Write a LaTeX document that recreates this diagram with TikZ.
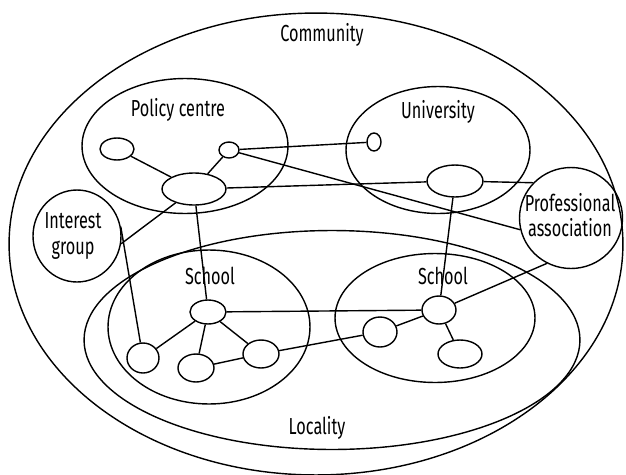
\documentclass[tikz,border=0pt]{standalone}
\usepackage{fontspec}
\setmainfont{Fira Sans}[FakeStretch=0.70]
\usetikzlibrary{shapes.geometric}
\tikzset{
    region/.style 2 args={draw, ellipse, inner sep=0pt, line width=0.8pt,
        minimum width=#1cm, minimum height=#2cm},
    blob/.style 2 args={draw, ellipse, inner sep=0pt, line width=0.8pt,
        minimum width=#1cm, minimum height=#2cm},
    lbl/.style={inner sep=1pt, align=center, font=\fontsize{13.2}{14.5}\selectfont},
    tie/.style={line width=0.8pt}
}

\begin{document}
\begin{tikzpicture}[x=0.02cm, y=-0.02cm]
    \useasboundingbox (0,0) rectangle (626,474);
    % big regions
    \node[region={12.28}{9.24}] (comm) at (316,244) {};
    \node[region={9.92}{4.38}]  (loc)  at (332,340) {};
    \node[region={4.04}{3.08}]  (schA) at (209,327) {};
    \node[region={4.0}{2.58}]   (schB) at (435,318) {};
    \node[region={4.12}{2.7}]   (pol)  at (185,146) {};
    \node[region={3.68}{2.54}]  (uni)  at (438,150) {};
    \node[region={1.76}{1.84}]  (ig)   at (77,236) {};
    \node[region={2.06}{2.02}]  (pa)   at (571,218) {};
    % labels
    \node[lbl] (tComm) at (322,35)  {Community};
    \node[lbl] (tLoc)  at (317,428) {Locality};
    \node[lbl] (tPol)  at (178,110) {Policy centre};
    \node[lbl] (tUni)  at (438,112) {University};
    \node[lbl] (tSchA) at (210,276) {School};
    \node[lbl] (tSchB) at (443,276) {School};
    \node[lbl] (tIg)   at (73,236)  {Interest\\group};
    \node[lbl] (tPa)   at (570,215) {Professional\\association};
    % small actors
    \node[blob={.68}{.44}] (p1) at (117,149) {};
    \node[blob={.40}{.32}] (p2) at (229,150) {};
    \node[blob={1.28}{.64}] (p3) at (194,189) {};
    \node[blob={.28}{.36}] (u1) at (374,142) {};
    \node[blob={1.12}{.64}] (u2) at (455,181) {};
    \node[blob={.72}{.48}] (s1) at (208,312) {};
    \node[blob={.64}{.60}] (s2) at (143,358) {};
    \node[blob={.72}{.56}] (s3) at (196,368) {};
    \node[blob={.72}{.56}] (s4) at (261,354) {};
    \node[blob={.68}{.56}] (r1) at (439,310) {};
    \node[blob={.68}{.60}] (r2) at (380,332) {};
    \node[blob={.88}{.56}] (r3) at (460,354) {};
    % ties
    \draw[tie] (p1) -- (p3);
    \draw[tie] (p2) -- (p3);
    \draw[tie] (p2) -- (u1);
    \draw[tie] (p2) -- (pa.193);
    \draw[tie] (p3) -- (u2);
    \draw[tie] (u2) -- (pa.137);
    \draw[tie] (p3) -- (ig.-10);
    \draw[tie] (p3) -- (s1);
    \draw[tie] (ig.12) -- (s2);
    \draw[tie] (u2) -- (r1);
    \draw[tie] (pa.242) -- (r1);
    \draw[tie] (s1) -- (s2);
    \draw[tie] (s1) -- (s3);
    \draw[tie] (s1) -- (s4);
    \draw[tie] (s3) -- (s4);
    \draw[tie] (s1) -- (r1);
    \draw[tie] (s4) -- (r2);
    \draw[tie] (r2) -- (r1);
    \draw[tie] (r1) -- (r3);
\end{tikzpicture}
\end{document}
